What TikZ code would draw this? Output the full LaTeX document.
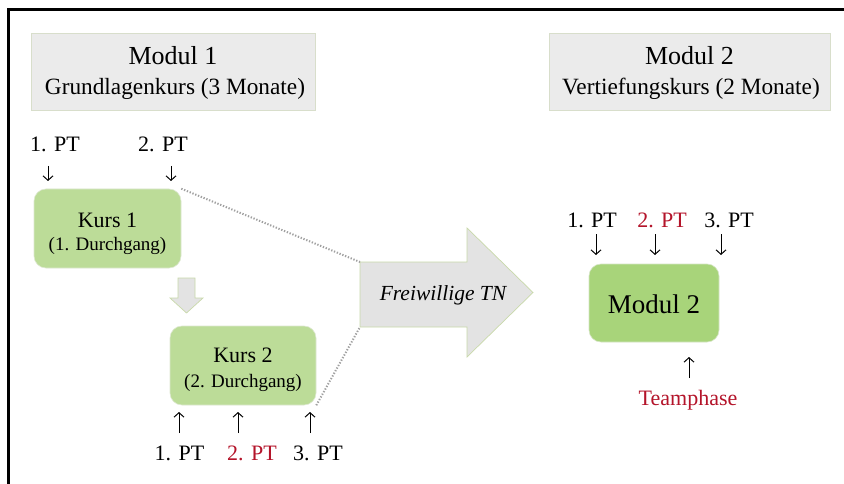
\documentclass[tikz,border=0pt]{standalone}
\usepackage{fontspec}
\setmainfont{Liberation Serif}
\usetikzlibrary{arrows.meta}
\definecolor{headfill}{HTML}{EBEBEB}
\definecolor{headline}{HTML}{D8DECB}
\definecolor{kursfill}{HTML}{BCDC98}
\definecolor{modfill}{HTML}{A8D47A}
\definecolor{arrowfill}{HTML}{E3E3E3}
\definecolor{arrowline}{HTML}{C9D9AA}
\definecolor{dotgray}{HTML}{A0A0A0}
\definecolor{ptred}{HTML}{B4142A}
\tikzset{
  headbox/.style={draw=headline, line width=0.8pt, fill=headfill, inner sep=0pt},
  kursbox/.style={fill=kursfill, draw=kursfill!90!black!40, line width=0.6pt, rounded corners=12pt, inner sep=0pt},
  modbox/.style={fill=modfill, draw=modfill!90!black!40, line width=0.6pt, rounded corners=12pt, inner sep=0pt},
  bigtxt/.style={font=\fontsize{26}{30}\selectfont, anchor=base},
  subtxt/.style={font=\fontsize{23.3}{27}\selectfont, anchor=base},
  midtxt/.style={font=\fontsize{22}{26}\selectfont, anchor=base},
  smalltxt/.style={font=\fontsize{19}{23}\selectfont, anchor=base},
  ptarrow/.style={line width=1pt, -{Straight Barb[length=4.5pt,width=10pt]}},
  dotline/.style={dotgray, line width=2pt, dash pattern=on 1.3pt off 1.7pt},
  blockarrow/.style={fill=arrowfill, draw=arrowline, line width=0.7pt},
}
\begin{document}
\begin{tikzpicture}[x=1pt, y=-1pt]
\useasboundingbox (0,0) rectangle (844,484);
\fill[white] (0,0) rectangle (844,484);

% outer frame (only top and left edges lie inside the page)
\draw[line width=3pt, line cap=rect] (8,484) -- (8,10) -- (844,10);

% module headers
\node[headbox, minimum width=284pt, minimum height=77pt] (m1) at (173,71.5) {};
\node[bigtxt] (m1t) at (173,65) {Modul 1};
\node[subtxt] (m1s) at (175,95) {Grundlagenkurs (3 Monate)};

\node[headbox, minimum width=281pt, minimum height=77pt] (m2) at (689.5,71.5) {};
\node[bigtxt] (m2t) at (689.5,65) {Modul 2};
\node[subtxt] (m2s) at (691,95) {Vertiefungskurs (2 Monate)};

% course boxes
\node[kursbox, minimum width=147pt, minimum height=79pt] (k1) at (107.5,228.5) {};
\node[midtxt] (k1t) at (107.5,227) {Kurs 1};
\node[smalltxt] (k1s) at (107.5,250) {(1. Durchgang)};

\node[kursbox, minimum width=146pt, minimum height=79pt] (k2) at (243,365.5) {};
\node[midtxt] (k2t) at (243,362) {Kurs 2};
\node[smalltxt] (k2s) at (243,387) {(2. Durchgang)};

% small block arrow from course 1 to course 2
\draw[blockarrow] (178,278) -- (195,278) -- (195,298) -- (203,298) -- (186.5,313)
  -- (170,298) -- (178,298) -- cycle;

% big block arrow
\coordinate (bt) at (360,262);
\coordinate (bb) at (360,327);
\draw[blockarrow] (bt) -- (467,262) -- (467,228) -- (533,292.5) -- (467,357)
  -- (467,327) -- (bb) -- cycle;
\node[font=\fontsize{21.5}{25}\selectfont\itshape, anchor=base] (fw) at (443,300) {Freiwillige TN};

% dotted guide lines
\draw[dotline] (k1.north east) -- (bt);
\draw[dotline] (k2.south east) -- (bb);

% module 2 box
\node[modbox, minimum width=130pt, minimum height=78pt] (mod2) at (654,303) {};
\node[font=\fontsize{27}{31}\selectfont, anchor=base] (mod2t) at (654,313) {Modul 2};

% PT markers, course 1
\node[midtxt] (a1) at (55,152) {1. PT};
\node[midtxt] (a2) at (163,152) {2. PT};
\draw[ptarrow] (48,166) -- (48 ,181);
\draw[ptarrow] (171,166) -- (171,181);

% PT markers, course 2
\node[midtxt] (b1) at (179.5,460) {1. PT};
\node[midtxt, text=ptred] (b2) at (252,460) {2. PT};
\node[midtxt] (b3) at (318,460) {3. PT};
\draw[ptarrow] (179,433) -- (179,412);
\draw[ptarrow] (238,433) -- (238,412);
\draw[ptarrow] (310,433) -- (310,412);

% PT markers, module 2
\node[midtxt] (c1) at (592,228) {1. PT};
\node[midtxt, text=ptred] (c2) at (662,228) {2. PT};
\node[midtxt] (c3) at (729,228) {3. PT};
\draw[ptarrow] (596,234) -- (596,255);
\draw[ptarrow] (655,234) -- (655,255);
\draw[ptarrow] (721,234) -- (721,255);

% team phase
\draw[ptarrow] (689,378) -- (689,357);
\node[midtxt, text=ptred] (tp) at (688,405) {Teamphase};
\end{tikzpicture}
\end{document}
